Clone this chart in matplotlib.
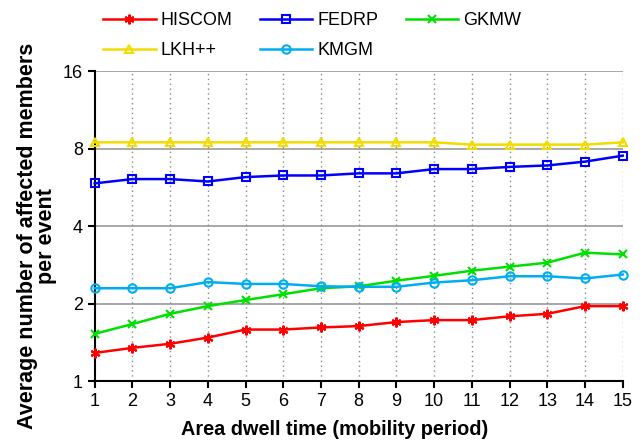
import matplotlib
matplotlib.use('Agg')
import matplotlib.pyplot as plt
from matplotlib.ticker import FixedLocator, FixedFormatter

plt.rcParams['font.family'] = ['Liberation Sans', 'DejaVu Sans']

# x axis: area dwell time
dwell = list(range(1, 16))

hiscom = [1.29, 1.35, 1.40, 1.48, 1.59, 1.59, 1.62, 1.64, 1.70, 1.73, 1.73, 1.79, 1.83, 1.96, 1.96]
fedrp = [5.87, 6.10, 6.10, 5.97, 6.21, 6.30, 6.30, 6.42, 6.42, 6.67, 6.67, 6.80, 6.89, 7.13, 7.52]
gkmw = [1.53, 1.67, 1.83, 1.96, 2.07, 2.18, 2.30, 2.34, 2.46, 2.57, 2.69, 2.79, 2.89, 3.16, 3.11]
lkh = [8.47, 8.47, 8.47, 8.47, 8.47, 8.47, 8.47, 8.47, 8.47, 8.47, 8.30, 8.30, 8.30, 8.30, 8.47]
kmgm = [2.30, 2.30, 2.30, 2.43, 2.39, 2.39, 2.34, 2.33, 2.33, 2.42, 2.47, 2.56, 2.56, 2.51, 2.60]

y_ticks = [1, 2, 4, 8, 16]
y_labels = ['1', '2', '4', '8', '16']

fig = plt.figure(figsize=(6.44, 4.42), dpi=100)
ax = fig.add_axes([0.147, 0.137, 0.82, 0.702])

# (label, values, color, marker, size)
series = [
    ('HISCOM', hiscom, '#FF0000', (6, 2, 0), 7),
    ('FEDRP', fedrp, '#0000FF', 's', 6),
    ('GKMW', gkmw, '#00E000', 'x', 6),
    ('LKH++', lkh, '#F2DC00', '^', 6),
    ('KMGM', kmgm, '#00AEEF', 'o', 6),
]
lines = {}
for label, vals, color, marker, ms in series:
    ln, = ax.plot(dwell, vals, color=color, marker=marker, markersize=ms,
                  markerfacecolor='none', markeredgecolor=color, markeredgewidth=1.5,
                  linewidth=1.8, label=label, clip_on=False, zorder=3)
    lines[label] = ln

ax.set_yscale('log', base=2)
ax.set_ylim(1, 16)
ax.set_xlim(1, 15)
ax.yaxis.set_major_locator(FixedLocator(y_ticks))
ax.yaxis.set_major_formatter(FixedFormatter(y_labels))
ax.yaxis.set_minor_locator(FixedLocator([]))
ax.set_xticks(dwell)

# grid: solid grey horizontals, dotted grey verticals
for yv in y_ticks[1:]:
    ax.axhline(yv, color='#999999', linewidth=1.2, zorder=1)
for xv in dwell[1:]:
    ax.axvline(xv, color='#888888', linewidth=1, linestyle=(0, (1, 2.5)), zorder=1)

ax.spines['top'].set_visible(False)
ax.spines['right'].set_visible(False)
ax.spines['left'].set_linewidth(1.5)
ax.spines['bottom'].set_linewidth(1.5)
ax.tick_params(axis='both', labelsize=13, width=1.5, length=5, direction='out')

ax.set_xlabel('Area dwell time (mobility period)', fontsize=14.3, fontweight='bold')
ax.xaxis.set_label_coords(0.455, -0.123)

# y label as figure text so both lines stay centred
fig.text(0.057, 0.466, 'Average number of affected members\nper event', rotation=90,
         ha='center', va='center', multialignment='center', fontsize=15.5,
         fontweight='bold', linespacing=0.9)

# legend filled column by column, so order gives rows HISCOM/FEDRP/GKMW, LKH++/KMGM
order = ['HISCOM', 'LKH++', 'FEDRP', 'KMGM', 'GKMW']
fig.legend([lines[k] for k in order], order, loc='upper left',
           bbox_to_anchor=(0.135, 1.01), ncol=3, frameon=False,
           fontsize=13, handlelength=2.9, columnspacing=1.5, labelspacing=0.75,
           handletextpad=0.3)

fig.savefig('out.png', dpi=100)
